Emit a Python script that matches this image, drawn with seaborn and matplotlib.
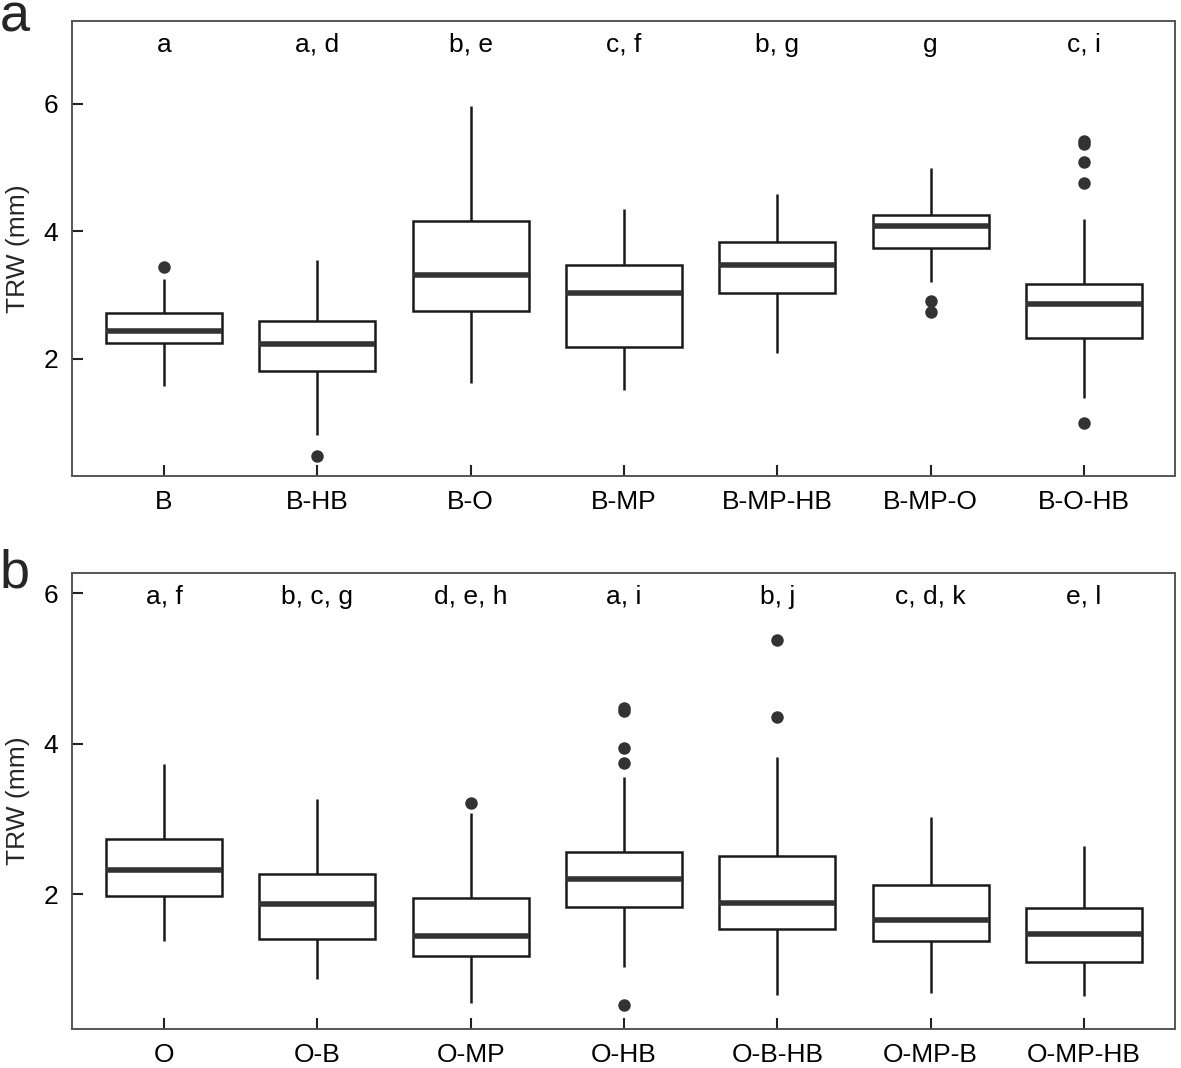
import numpy as np
import pandas as pd
import matplotlib
matplotlib.use("Agg")
import matplotlib.pyplot as plt
import seaborn as sns

# ---------------- data ----------------
groups_a = ["B", "B-HB", "B-O", "B-MP", "B-MP-HB", "B-MP-O", "B-O-HB"]
whislo_a = [1.57, 0.81, 1.62, 1.51, 2.10, 3.20, 1.39]
q1_a = [2.25, 1.81, 2.75, 2.19, 3.03, 3.74, 2.33]
med_a = [2.44, 2.235, 3.31, 3.04, 3.47, 4.09, 2.87]
q3_a = [2.72, 2.60, 4.16, 3.47, 3.84, 4.26, 3.17]
whishi_a = [3.25, 3.55, 5.97, 4.36, 4.58, 5.00, 4.20]
fliers_a = [[3.45], [0.48], [], [], [], [2.91, 2.73], [5.42, 5.37, 5.09, 4.76, 0.99]]
letters_a = ["a", "a, d", "b, e", "c, f", "b, g", "g", "c, i"]

groups_b = ["O", "O-B", "O-MP", "O-HB", "O-B-HB", "O-MP-B", "O-MP-HB"]
whislo_b = [1.37, 0.87, 0.55, 1.03, 0.66, 0.68, 0.64]
q1_b = [1.97, 1.40, 1.17, 1.83, 1.53, 1.37, 1.09]
med_b = [2.32, 1.87, 1.44, 2.20, 1.88, 1.66, 1.47]
q3_b = [2.73, 2.27, 1.95, 2.56, 2.50, 2.12, 1.82]
whishi_b = [3.73, 3.27, 3.08, 3.56, 3.82, 3.03, 2.64]
fliers_b = [[], [], [3.21], [4.47, 4.43, 3.94, 3.74, 0.52], [5.38, 4.36], [], []]
letters_b = ["a, f", "b, c, g", "d, e, h", "a, i", "b, j", "c, d, k", "e, l"]

ylabel = "TRW (mm)"
yticks = [2, 4, 6]

# ---------------- style ----------------
sns.set_style("white")
plt.rcParams["font.family"] = ["Liberation Sans", "DejaVu Sans"]

FRAME = "#555555"
BOXC = "#1a1a1a"
MEDC = "#333333"
FLC = "#333333"


def box_frame(groups, lo, q1, med, q3, hi):
    rows = []
    for g, a, b, c, d, e in zip(groups, lo, q1, med, q3, hi):
        # five values whose min / quartiles / max are the box statistics
        for v in (a, b, c, d, e):
            rows.append({"group": g, "value": v})
    return pd.DataFrame(rows)


def flier_frame(groups, fl):
    rows = []
    for g, vals in zip(groups, fl):
        for v in vals:
            rows.append({"group": g, "value": v})
    return pd.DataFrame(rows, columns=["group", "value"])


fig = plt.figure(figsize=(11.81, 10.68), dpi=100)
ax_a = fig.add_axes([0.061, 0.5543, 0.934, 0.426])
ax_b = fig.add_axes([0.061, 0.0365, 0.934, 0.427])

panels = [
    (ax_a, groups_a, whislo_a, q1_a, med_a, q3_a, whishi_a, fliers_a, letters_a, (0.165, 7.30), 6.82),
    (ax_b, groups_b, whislo_b, q1_b, med_b, q3_b, whishi_b, fliers_b, letters_b, (0.205, 6.27), 5.86),
]

for ax, groups, lo, q1, med, q3, hi, fl, letters, ylim, ly in panels:
    df = box_frame(groups, lo, q1, med, q3, hi)
    sns.boxplot(
        data=df, x="group", y="value", order=groups, ax=ax,
        whis=(0, 100), width=0.757, showfliers=False, showcaps=False,
        color="white", saturation=1, linecolor=BOXC, linewidth=1.8,
        medianprops={"color": MEDC, "linewidth": 4.0},
    )
    fdf = flier_frame(groups, fl)
    sns.stripplot(
        data=fdf, x="group", y="value", order=groups, ax=ax,
        jitter=False, color=FLC, size=9, linewidth=0, zorder=5,
    )
    for i, t in enumerate(letters):
        ax.text(i, ly, t, ha="center", va="baseline", fontsize=19, color="black")

    ax.set_xlim(-0.6, 6.595)
    ax.set_ylim(*ylim)
    ax.set_yticks(yticks)
    ax.set_yticklabels([str(v) for v in yticks])
    ax.set_xlabel("")
    ax.set_ylabel(ylabel, fontsize=19, labelpad=10)
    ax.tick_params(axis="both", which="major", bottom=True, left=True,
                   direction="in", length=8, width=1.5,
                   color="#222222", labelsize=19, labelcolor="black")
    ax.tick_params(axis="x", pad=10)
    ax.tick_params(axis="y", pad=10)
    for s in ax.spines.values():
        s.set_visible(True)
        s.set_color(FRAME)
        s.set_linewidth(1.4)

fig.text(0.0, 1 - 32 / 1068, "a", fontsize=39, ha="left", va="baseline")
fig.text(0.0, 1 - 587 / 1068, "b", fontsize=39, ha="left", va="baseline")

fig.savefig("out.png", dpi=100, facecolor="white")
